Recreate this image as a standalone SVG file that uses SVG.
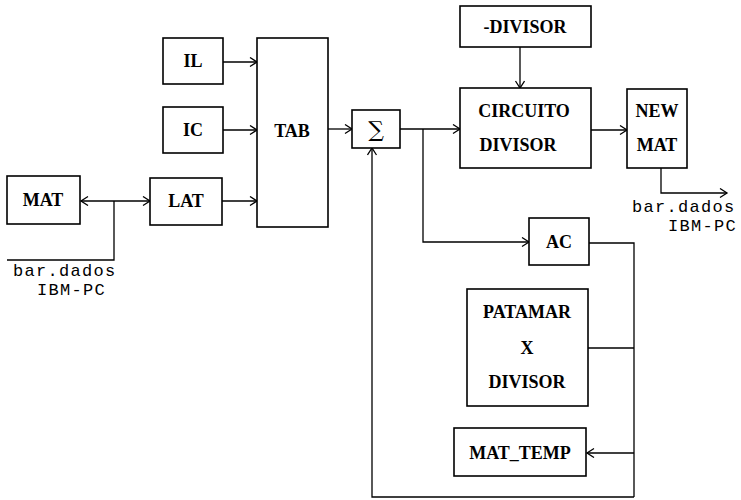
<svg xmlns="http://www.w3.org/2000/svg" width="741" height="500" viewBox="0 0 741 500">
<style>
.box{fill:#fff;stroke:#000;stroke-width:1.6}
.lbl{font-family:"Liberation Serif","DejaVu Serif",serif;font-weight:bold;font-size:18px;fill:#000;text-anchor:middle;dominant-baseline:central}
.txt{font-family:"Liberation Mono","DejaVu Sans Mono",monospace;font-size:17px;letter-spacing:1.3px;fill:#000}
.ln{fill:none;stroke:#000;stroke-width:1.3}
</style>
<defs>
<marker id="ah" markerUnits="userSpaceOnUse" markerWidth="12" markerHeight="12" refX="8" refY="5" orient="auto-start-reverse">
<path d="M1,0.5 L8,5 L1,9.5" fill="none" stroke="#000" stroke-width="1.3"/>
</marker>
</defs>
<rect width="741" height="500" fill="#fff"/>
<g id="connectors">
<path class="ln" d="M81,201 L150,201" marker-start="url(#ah)" marker-end="url(#ah)"/>
<path class="ln" d="M114,201 L114,260 L7,260"/>
<path class="ln" d="M222,201 L257,201" marker-end="url(#ah)"/>
<path class="ln" d="M223,62 L257,62" marker-end="url(#ah)"/>
<path class="ln" d="M223,130 L257,130" marker-end="url(#ah)"/>
<path class="ln" d="M328,129 L352,129" marker-end="url(#ah)"/>
<path class="ln" d="M400,129 L460,129" marker-end="url(#ah)"/>
<path class="ln" d="M423,129 L423,242 L529,242" marker-end="url(#ah)"/>
<path class="ln" d="M520,47 L520,88" marker-end="url(#ah)"/>
<path class="ln" d="M591,130 L627,130" marker-end="url(#ah)"/>
<path class="ln" d="M661,168 L661,193 L727,193" marker-end="url(#ah)"/>
<path class="ln" d="M589,243 L634,243 L634,497"/>
<path class="ln" d="M588,348 L634,348"/>
<path class="ln" d="M634,453 L587,453" marker-end="url(#ah)"/>
<path class="ln" d="M634,497 L372,497 L372,148" marker-end="url(#ah)"/>
</g>
<g id="MAT"><rect class="box" x="7" y="176" width="73" height="48"/><text class="lbl" x="43" y="200">MAT</text></g>
<g id="LAT"><rect class="box" x="150" y="178" width="72" height="47"/><text class="lbl" x="186" y="201">LAT</text></g>
<g id="IL"><rect class="box" x="163" y="38" width="60" height="46"/><text class="lbl" x="193" y="61">IL</text></g>
<g id="IC"><rect class="box" x="163" y="107" width="60" height="46"/><text class="lbl" x="193" y="130">IC</text></g>
<g id="TAB"><rect class="box" x="257" y="38" width="71" height="189"/><text class="lbl" x="292" y="131">TAB</text></g>
<g id="SUM"><rect class="box" x="352" y="110" width="48" height="38"/><text x="376" y="129" font-family="'DejaVu Serif','Liberation Serif',serif" font-size="22" text-anchor="middle" dominant-baseline="central">∑</text></g>
<g id="NEG_DIVISOR"><rect class="box" x="460" y="6" width="131" height="41"/><text class="lbl" x="525" y="27">-DIVISOR</text></g>
<g id="CIRCUITO_DIVISOR"><rect class="box" x="460" y="88" width="131" height="80"/><text class="lbl" x="524" y="111">CIRCUITO</text><text class="lbl" x="518" y="145">DIVISOR</text></g>
<g id="NEW_MAT"><rect class="box" x="627" y="89" width="60" height="79"/><text class="lbl" x="657" y="111">NEW</text><text class="lbl" x="657" y="145">MAT</text></g>
<g id="AC"><rect class="box" x="529" y="218" width="60" height="47"/><text class="lbl" x="559" y="242">AC</text></g>
<g id="PATAMAR"><rect class="box" x="467" y="289" width="121" height="117"/><text class="lbl" x="527" y="312">PATAMAR</text><text class="lbl" x="527" y="348">X</text><text class="lbl" x="527" y="382">DIVISOR</text></g>
<g id="MAT_TEMP"><rect class="box" x="454" y="428" width="132" height="48"/><text class="lbl" x="520" y="453">MAT_TEMP</text></g>
<g id="labels">
<text class="txt" x="13" y="276">bar.dados</text>
<text class="txt" x="37" y="295">IBM-PC</text>
<text class="txt" x="632" y="212">bar.dados</text>
<text class="txt" x="668" y="231">IBM-PC</text>
</g>
</svg>
